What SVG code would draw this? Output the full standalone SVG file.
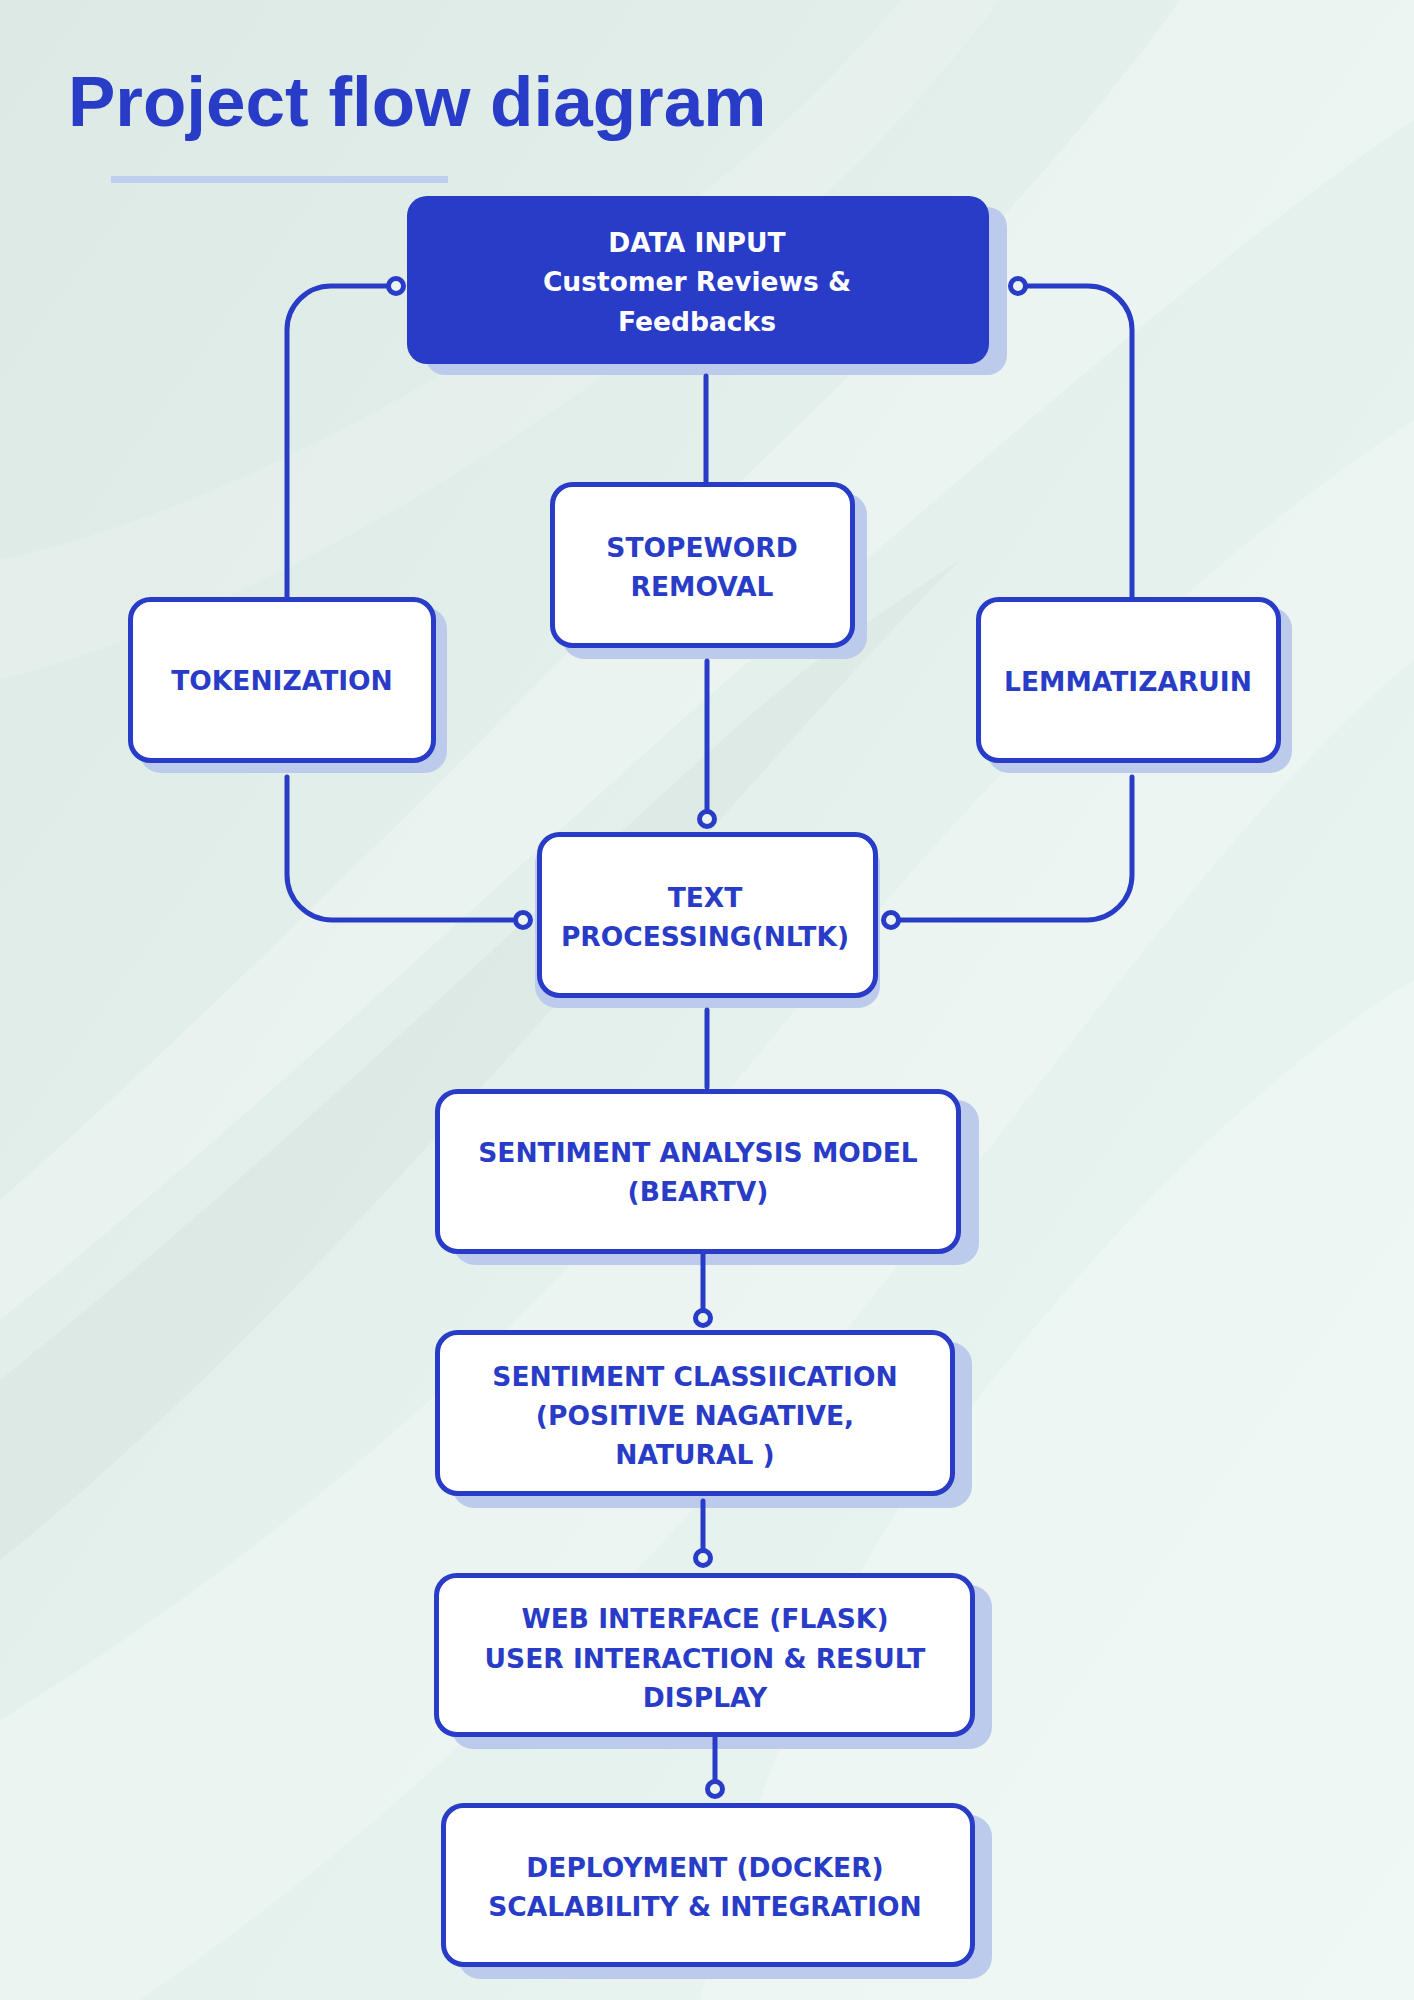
<svg xmlns="http://www.w3.org/2000/svg" width="1414" height="2000" viewBox="0 0 1414 2000">
  <defs>
    <linearGradient id="bg" x1="0" y1="0" x2="1" y2="1">
      <stop offset="0" stop-color="#dce9e4"/>
      <stop offset="0.45" stop-color="#e3f0eb"/>
      <stop offset="1" stop-color="#ecf6f2"/>
    </linearGradient>
    <style>
      .shadow { fill: #bccbec; }
      .box { fill: #ffffff; stroke: #283cc8; stroke-width: 5; }
      .boxdark { fill: #283cc8; }
      .lbl { font-family: "DejaVu Sans", "Liberation Sans", sans-serif; font-weight: bold; font-size: 26.5px; fill: #283cc8; text-anchor: middle; }
      .lblw { font-family: "DejaVu Sans", "Liberation Sans", sans-serif; font-weight: bold; font-size: 26.5px; fill: #ffffff; text-anchor: middle; }
      .conn { fill: none; stroke: #283cc8; stroke-width: 5; stroke-linecap: round; }
      .dot { fill: #eaf4f0; stroke: #283cc8; stroke-width: 5; }
    </style>
  </defs>

  <!-- background -->
  <rect x="0" y="0" width="1414" height="2000" fill="url(#bg)"/>
  <path d="M1414,0 L1180,0 C1050,180 900,330 700,520 C500,720 250,980 0,1200 L0,1320 C300,1080 560,820 820,600 C1050,400 1250,230 1414,120 Z" fill="#ffffff" opacity="0.28"/>
  <path d="M0,1380 C250,1180 480,960 700,760 C820,650 900,600 960,560 C860,660 720,820 560,1000 C380,1200 200,1400 0,1560 Z" fill="#d3e0dc" opacity="0.35"/>
  <path d="M1414,420 C1200,560 1000,760 820,980 C640,1200 420,1460 0,1720 L0,2000 L140,2000 C520,1740 780,1420 980,1160 C1150,940 1290,760 1414,660 Z" fill="#ffffff" opacity="0.25"/>
  <path d="M1414,980 C1250,1080 1100,1240 960,1420 C850,1560 760,1760 700,2000 L1414,2000 Z" fill="#f2f9f6" opacity="0.5"/>
  <path d="M0,560 C180,520 380,420 560,300 C700,200 800,120 900,0 L1000,0 C880,160 720,300 540,420 C360,540 160,640 0,680 Z" fill="#ffffff" opacity="0.18"/>

  <!-- title -->
  <text x="68" y="126" font-family="'Liberation Sans', Arial, sans-serif" font-weight="bold" font-size="71" fill="#283cc8">Project flow diagram</text>
  <rect x="111" y="176" width="337" height="7" fill="#bfcdee"/>

  <!-- nodes -->
  <g id="data-input">
    <rect class="shadow" x="425" y="207" width="582" height="168" rx="20"/>
    <rect class="boxdark" x="407" y="196" width="582" height="168" rx="20"/>
    <text class="lblw" x="697" y="252">DATA INPUT</text>
    <text class="lblw" x="697" y="291">Customer Reviews &amp;</text>
    <text class="lblw" x="697" y="331">Feedbacks</text>
  </g>

  <g id="stopword-removal">
    <rect class="shadow" x="562" y="493" width="305" height="166" rx="22"/>
    <rect class="box" x="552.5" y="484.5" width="300" height="161" rx="20"/>
    <text class="lbl" x="702" y="557">STOPEWORD</text>
    <text class="lbl" x="702" y="596">REMOVAL</text>
  </g>

  <g id="tokenization">
    <rect class="shadow" x="139" y="607" width="308" height="166" rx="22"/>
    <rect class="box" x="130.5" y="599.5" width="303" height="161" rx="20"/>
    <text class="lbl" x="282" y="690">TOKENIZATION</text>
  </g>

  <g id="lemmatization">
    <rect class="shadow" x="987" y="607" width="305" height="166" rx="22"/>
    <rect class="box" x="978.5" y="599.5" width="300" height="161" rx="20"/>
    <text class="lbl" x="1128" y="691">LEMMATIZARUIN</text>
  </g>

  <g id="text-processing">
    <rect class="shadow" x="535" y="842" width="345" height="166" rx="22"/>
    <rect class="box" x="539.5" y="834.5" width="336" height="161" rx="20"/>
    <text class="lbl" x="705" y="907">TEXT</text>
    <text class="lbl" x="705" y="946">PROCESSING(NLTK)</text>
  </g>

  <g id="sentiment-analysis">
    <rect class="shadow" x="453" y="1100" width="526" height="165" rx="22"/>
    <rect class="box" x="437.5" y="1091.5" width="521" height="160" rx="20"/>
    <text class="lbl" x="698" y="1162">SENTIMENT ANALYSIS MODEL</text>
    <text class="lbl" x="698" y="1201">(BEARTV)</text>
  </g>

  <g id="sentiment-classification">
    <rect class="shadow" x="452" y="1342" width="520" height="166" rx="22"/>
    <rect class="box" x="437.5" y="1332.5" width="515" height="161" rx="20"/>
    <text class="lbl" x="695" y="1386">SENTIMENT CLASSIICATION</text>
    <text class="lbl" x="695" y="1425">(POSITIVE NAGATIVE,</text>
    <text class="lbl" x="695" y="1464">NATURAL )</text>
  </g>

  <g id="web-interface">
    <rect class="shadow" x="451" y="1585" width="541" height="164" rx="22"/>
    <rect class="box" x="436.5" y="1575.5" width="536" height="159" rx="20"/>
    <text class="lbl" x="705" y="1628">WEB INTERFACE (FLASK)</text>
    <text class="lbl" x="705" y="1668">USER INTERACTION &amp; RESULT</text>
    <text class="lbl" x="705" y="1707">DISPLAY</text>
  </g>

  <g id="deployment">
    <rect class="shadow" x="458" y="1815" width="534" height="164" rx="22"/>
    <rect class="box" x="443.5" y="1805.5" width="529" height="159" rx="20"/>
    <text class="lbl" x="705" y="1877">DEPLOYMENT (DOCKER)</text>
    <text class="lbl" x="705" y="1916">SCALABILITY &amp; INTEGRATION</text>
  </g>

  <!-- connectors -->
  <g id="connectors">
    <path class="conn" d="M396,286 H331 A44,44 0 0 0 287,330 V597"/>
    <path class="conn" d="M1018,286 H1088 A44,44 0 0 1 1132,330 V597"/>
    <path class="conn" d="M706,376 V482"/>
    <path class="conn" d="M707,661 V811"/>
    <path class="conn" d="M287,777 V875 A45,45 0 0 0 332,920 H514"/>
    <path class="conn" d="M1132,777 V875 A45,45 0 0 1 1087,920 H900"/>
    <path class="conn" d="M707,1010 V1087" stroke-width="7" stroke-linecap="butt"/>
    <path class="conn" d="M703,1254 V1310"/>
    <path class="conn" d="M703,1501 V1550"/>
    <path class="conn" d="M715,1735 V1781"/>
    <circle class="dot" cx="396" cy="286" r="7.5"/>
    <circle class="dot" cx="1018" cy="286" r="7.5"/>
    <circle class="dot" cx="707" cy="819" r="7.5"/>
    <circle class="dot" cx="523" cy="920" r="7.5"/>
    <circle class="dot" cx="891" cy="920" r="7.5"/>
    <circle class="dot" cx="703" cy="1318" r="7.5"/>
    <circle class="dot" cx="703" cy="1558" r="7.5"/>
    <circle class="dot" cx="715" cy="1789" r="7.5"/>
  </g>
</svg>
